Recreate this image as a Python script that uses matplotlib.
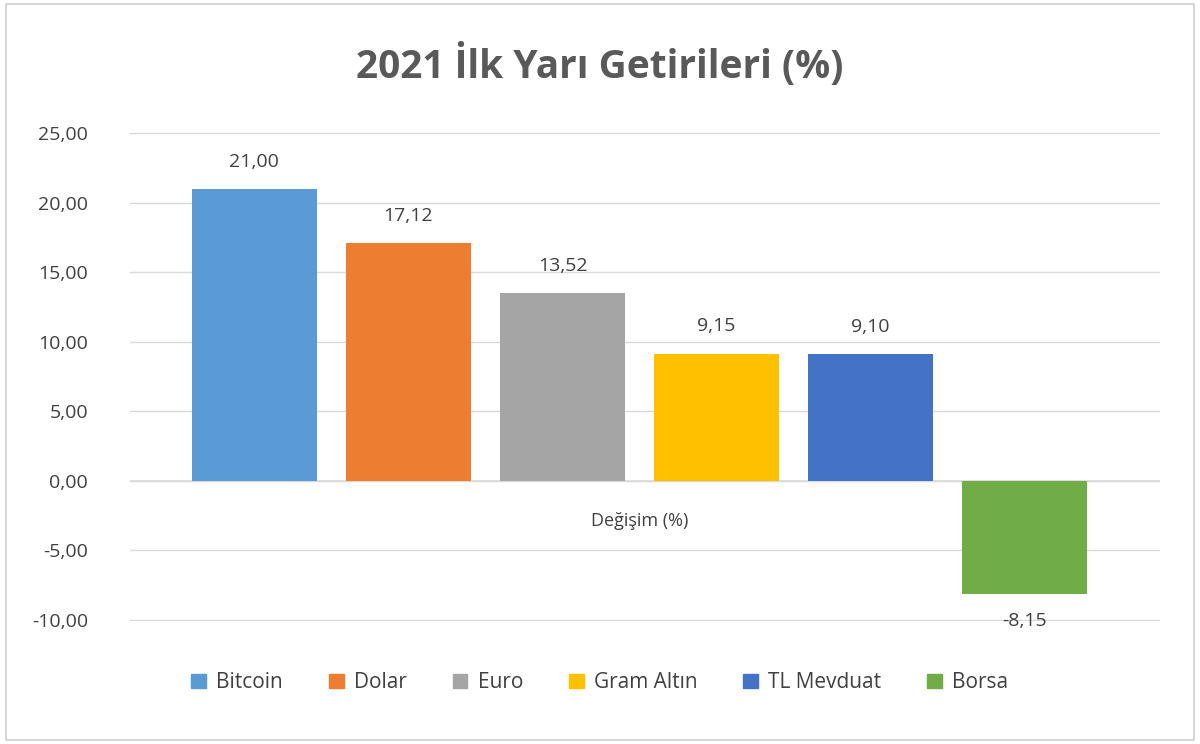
import matplotlib.pyplot as plt
import numpy as np
from matplotlib.patches import Patch, Rectangle

# Data
categories = ['Bitcoin', 'Dolar', 'Euro', 'Gram Altın', 'TL Mevduat', 'Borsa']
values = [21.00, 17.12, 13.52, 9.15, 9.10, -8.15]
colors = ['#5B9BD5', '#ED7D31', '#A5A5A5', '#FFC000', '#4472C4', '#70AD47']
yticks = [-10, -5, 0, 5, 10, 15, 20, 25]

plt.rcParams['font.family'] = ['Open Sans', 'DejaVu Sans']
txt = '#404040'

fig = plt.figure(figsize=(12, 7.44), dpi=100)
fig.patches.append(Rectangle((0.005, 0.005), 0.99, 0.99, transform=fig.transFigure,
                             fill=False, edgecolor='#d0d0d0', lw=1.2))
ax = fig.add_axes([0.108, 0.165, 0.859, 0.657])

x = np.arange(len(values))
ax.bar(x, values, width=0.81, color=colors, zorder=3)
ax.set_xlim(-0.81, 5.88)
ax.set_ylim(-10.1, 25.05)
ax.set_yticks(yticks)
ax.set_yticklabels([('%.2f' % v).replace('.', ',') for v in yticks],
                   fontsize=14, color=txt)
ax.tick_params(axis='y', length=0, pad=30)
ax.set_xticks([])
ax.grid(axis='y', color='#d9d9d9', lw=1, zorder=0)
for s in ax.spines.values():
    s.set_visible(False)
ax.axhline(0, color='#d9d9d9', lw=1.2, zorder=2)

for xi, v in zip(x, values):
    lab = ('%.2f' % v).replace('.', ',')
    if v >= 0:
        ax.text(xi, v + 1.3, lab, ha='center', va='bottom', fontsize=14, color=txt)
    else:
        ax.text(xi, v - 1.9, lab, ha='center', va='center', fontsize=14, color=txt)

ax.text(2.5, -2.9, 'Değişim (%)', ha='center', va='center', fontsize=13, color=txt)

fig.text(0.5, 0.912, '2021 İlk Yarı Getirileri (%)', ha='center', va='center',
         fontsize=28, fontweight='bold', color='#595959')

handles = [Patch(color=c, label=n) for c, n in zip(colors, categories)]
fig.legend(handles=handles, loc='center', bbox_to_anchor=(0.5, 0.082), ncol=6,
           frameon=False, fontsize=15, handlelength=0.7, handleheight=0.7,
           columnspacing=2.2, handletextpad=0.5, labelcolor=txt)

fig.savefig('out.png', dpi=100)
